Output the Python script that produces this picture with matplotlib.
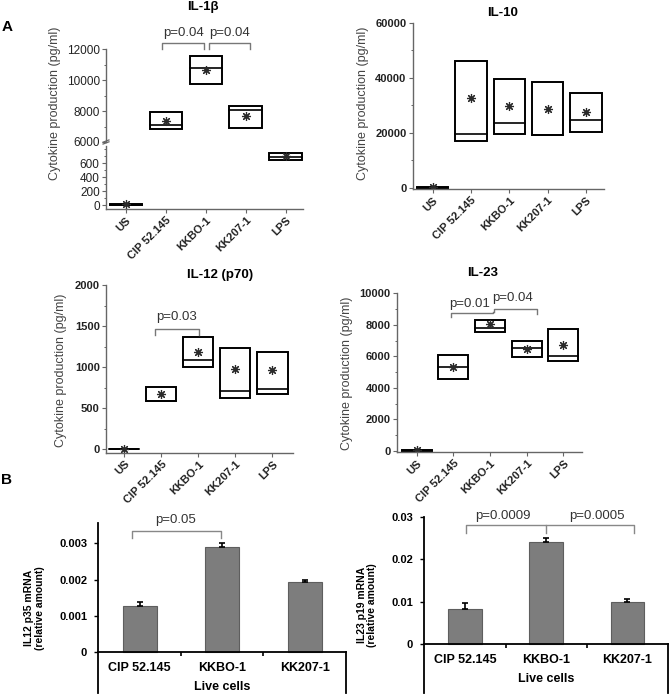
import numpy as np
import matplotlib.pyplot as plt
from matplotlib.patches import Rectangle
from matplotlib.ticker import MultipleLocator

plt.rcParams['font.family'] = ['Liberation Sans', 'DejaVu Sans']

groups = ['US', 'CIP 52.145', 'KKBO-1', 'KK207-1', 'LPS']

# box data: low edge, median line, high edge, mean (star)
il1b_low = [0, 6851, 9724, 6915, 641]
il1b_med = [5, 7107, 10745, 8064, 688]
il1b_high = [15, 7915, 11533, 8340, 748]
il1b_mean = [8, 7383, 10640, 7660, 701]

il10_low = [0, 17020, 19430, 19070, 20160]
il10_med = [100, 19550, 23540, 19250, 24500]
il10_high = [300, 46110, 39590, 38620, 34400]
il10_mean = [150, 32830, 29570, 28730, 27400]

il12_low = [0, 589, 1008, 630, 671]
il12_med = [3, 595, 1085, 707, 740]
il12_high = [10, 764, 1370, 1232, 1191]
il12_mean = [5, 679, 1187, 976, 970]

il23_low = [0, 4566, 7568, 5983, 5708]
il23_med = [20, 5306, 7822, 6532, 6025]
il23_high = [60, 6088, 8308, 6955, 7758]
il23_mean = [60, 5349, 8033, 6448, 6722]

live = ['CIP 52.145', 'KKBO-1', 'KK207-1']
p35 = [0.00128, 0.00291, 0.00193]
p35_err = [0.00011, 0.00009, 0.00006]
p19 = [0.0083, 0.0240, 0.00995]
p19_err = [0.0013, 0.0011, 0.0006]

W, H = 671, 696
fig = plt.figure(figsize=(W / 100, H / 100), dpi=100)


def px_axes(x0, y0, x1, y1):
    return fig.add_axes([x0 / W, 1 - y1 / H, (x1 - x0) / W, (y1 - y0) / H])


def style_a(ax, bold):
    for s in ['top', 'right']:
        ax.spines[s].set_visible(False)
    for s in ['left', 'bottom']:
        ax.spines[s].set_color('#666666')
        ax.spines[s].set_linewidth(1.0)
    ax.tick_params(which='major', direction='out', length=3, width=0.8,
                   color='#666666', labelsize=8, labelcolor='#222222', pad=1.5)
    ax.tick_params(which='minor', direction='out', length=1.8, width=0.7,
                   color='#666666')
    for t in ax.get_yticklabels():
        t.set_fontweight('bold' if bold else 'normal')


def boxes(ax, low, med, high, mean, w=0.82):
    for i in range(len(low)):
        ax.add_patch(Rectangle((i - w / 2, low[i]), w, high[i] - low[i],
                               fill=False, ec='black', lw=1.4))
        ax.plot([i - w / 2, i + w / 2], [med[i], med[i]], color='black', lw=1.2)
    ax.plot(range(len(mean)), mean, ls='none', marker=(8, 2, 0), ms=6.5,
            mec='#2a2a2a', mew=0.85)


def xcats(ax):
    ax.set_xticks(range(len(groups)))
    ax.set_xticklabels(groups, rotation=45, ha='right', rotation_mode='anchor',
                       fontsize=8, fontweight='bold', color='#222222')


def bracket(ax, x1, x2, ytop, yl1, yl2, col='#777777'):
    ax.plot([x1, x1, x2, x2], [yl1, ytop, ytop, yl2], color=col, lw=1.0,
            clip_on=False)


PSIZE = 9.5
TSIZE = 9.5
YLSIZE = 9

# ---------------- IL-1b (broken axis) ----------------
ax_up = px_axes(106, 49, 303, 142)
ax_lo = px_axes(106, 146, 303, 209)
for a in (ax_up, ax_lo):
    boxes(a, il1b_low, il1b_med, il1b_high, il1b_mean)
    a.set_xlim(-0.5, 4.43)
ax_up.set_ylim(6000, 12000)
ax_up.set_yticks([6000, 8000, 10000, 12000])
ax_up.yaxis.set_minor_locator(MultipleLocator(1000))
ax_lo.set_ylim(-57, 846)
ax_lo.set_yticks([0, 200, 400, 600])
ax_lo.yaxis.set_minor_locator(MultipleLocator(100))
xcats(ax_lo)
ax_up.set_xticks([])
style_a(ax_up, False)
style_a(ax_lo, False)
ax_up.spines['bottom'].set_visible(False)
for a in (ax_up, ax_lo):
    for t in a.get_yticklabels():
        t.set_fontsize(8.5)
# break mark
for yy in (-0.01, 0.01):
    ax_up.plot([-0.015, 0.015], [yy - 0.012, yy + 0.012], transform=ax_up.transAxes,
               color='#666666', lw=0.9, clip_on=False)
bracket(ax_up, 0.9, 1.95, 12384, 12000, 12000)
bracket(ax_up, 2.07, 3.1, 12384, 12000, 12000)
ax_up.text(1.43, 12650, 'p=0.04', ha='center', va='bottom', fontsize=PSIZE,
           color='#333333', clip_on=False)
ax_up.text(2.6, 12650, 'p=0.04', ha='center', va='bottom', fontsize=PSIZE,
           color='#333333', clip_on=False)
fig.text(203 / W, 1 - 7 / H, 'IL-1β', ha='center', va='center', fontsize=TSIZE,
         fontweight='bold')
fig.text(55 / W, 1 - 103 / H, 'Cytokine production (pg/ml)', rotation=90,
         ha='center', va='center', fontsize=YLSIZE, color='#444444')

# ---------------- IL-10 ----------------
ax = px_axes(412.7, 22.7, 604, 189)
boxes(ax, il10_low, il10_med, il10_high, il10_mean)
ax.set_xlim(-0.52, 4.47)
ax.set_ylim(-400, 60000)
ax.set_yticks([0, 20000, 40000, 60000])
ax.yaxis.set_minor_locator(MultipleLocator(10000))
xcats(ax)
style_a(ax, True)
fig.text(503 / W, 1 - 13 / H, 'IL-10', ha='center', va='center', fontsize=TSIZE,
         fontweight='bold')
fig.text(363 / W, 1 - 103 / H, 'Cytokine production (pg/ml)', rotation=90,
         ha='center', va='center', fontsize=YLSIZE, color='#444444')

# ---------------- IL-12 (p70) ----------------
ax = px_axes(106, 285.3, 292.7, 452.7)
boxes(ax, il12_low, il12_med, il12_high, il12_mean)
ax.set_xlim(-0.49, 4.55)
ax.set_ylim(-41, 2000)
ax.set_yticks([0, 500, 1000, 1500, 2000])
ax.yaxis.set_minor_locator(MultipleLocator(250))
xcats(ax)
style_a(ax, True)
bracket(ax, 0.82, 2.02, 1463, 1394, 1394)
ax.text(1.42, 1545, 'p=0.03', ha='center', va='bottom', fontsize=PSIZE,
        color='#333333')
fig.text(220 / W, 1 - 275 / H, 'IL-12 (p70)', ha='center', va='center',
         fontsize=TSIZE, fontweight='bold')
fig.text(61 / W, 1 - 370 / H, 'Cytokine production (pg/ml)', rotation=90,
         ha='center', va='center', fontsize=YLSIZE, color='#444444')

# ---------------- IL-23 ----------------
ax = px_axes(396.7, 293.3, 581.7, 452)
boxes(ax, il23_low, il23_med, il23_high, il23_mean)
ax.set_xlim(-0.545, 4.5)
ax.set_ylim(-63, 10000)
ax.set_yticks([0, 2000, 4000, 6000, 8000, 10000])
ax.yaxis.set_minor_locator(MultipleLocator(1000))
xcats(ax)
style_a(ax, True)
bracket(ax, 0.93, 2.09, 8773, 8520, 8800)
bracket(ax, 2.11, 3.29, 8985, 8800, 8667)
ax.text(1.45, 8950, 'p=0.01', ha='center', va='bottom', fontsize=PSIZE,
        color='#333333')
ax.text(2.62, 9350, 'p=0.04', ha='center', va='bottom', fontsize=PSIZE,
        color='#333333')
fig.text(483 / W, 1 - 273 / H, 'IL-23', ha='center', va='center', fontsize=TSIZE,
         fontweight='bold')
fig.text(347 / W, 1 - 373 / H, 'Cytokine production (pg/ml)', rotation=90,
         ha='center', va='center', fontsize=YLSIZE, color='#444444')


# ---------------- B panels ----------------
def bar_panel(ax, vals, errs, ylo, yhi, ticks, ticklabels, ylab):
    x = np.arange(len(live))
    ax.bar(x, vals, width=0.41, color='#7d7d7d', edgecolor='#5e5e5e', lw=0.8,
           zorder=2)
    ax.errorbar(x, vals, yerr=[np.zeros(len(vals)), errs], fmt='none',
                ecolor='black', elinewidth=1.2, capsize=2.2, capthick=1.2, zorder=3)
    ax.set_xlim(-0.5, 2.5)
    ax.set_ylim(ylo, yhi)
    ax.spines['top'].set_visible(False)
    ax.spines['bottom'].set_position(('data', 0))
    ax.spines['right'].set_bounds(ylo, 0)
    for s in ['left', 'right', 'bottom']:
        ax.spines[s].set_color('black')
        ax.spines[s].set_linewidth(1.3)
    ax.set_yticks(ticks)
    ax.set_yticklabels(ticklabels, fontsize=8, fontweight='bold')
    ax.set_xticks(x)
    ax.set_xticklabels(live, fontsize=9, fontweight='bold')
    ax.set_xticks([0.5, 1.5], minor=True)
    ax.tick_params(axis='x', which='major', length=0, pad=7)
    ax.tick_params(axis='x', which='minor', length=3, width=1.2, direction='out')
    ax.tick_params(axis='y', which='major', length=3, width=1, direction='out',
                   pad=5)
    ax.set_xlabel('Live cells', fontsize=9, fontweight='bold', labelpad=5)
    ax.set_ylabel(ylab, fontsize=7.5, fontweight='bold', linespacing=1.1,
                  labelpad=10)


ax = px_axes(98.3, 523.3, 346, 693)
bar_panel(ax, p35, p35_err, -0.00112, 0.00355, [0, 0.001, 0.002, 0.003],
          ['0', '0.001', '0.002', '0.003'], 'IL12 p35 mRNA\n(relative amount)')
bracket(ax, -0.09, 0.99, 0.003347, 0.003154, 0.003154, col='#888888')
ax.text(0.44, 0.00348, 'p=0.05', ha='center', va='bottom', fontsize=PSIZE,
        color='#333333', clip_on=False)

ax = px_axes(424.3, 516.7, 668, 693)
bar_panel(ax, p19, p19_err, -0.01145, 0.03, [0, 0.01, 0.02, 0.03],
          ['0', '0.01', '0.02', '0.03'], 'IL23 p19 mRNA\n(relative amount)')
bracket(ax, 0.01, 1.0, 0.02804, 0.02624, 0.02624, col='#888888')
bracket(ax, 1.0, 2.08, 0.02804, 0.02804, 0.02608, col='#888888')
ax.text(0.47, 0.0288, 'p=0.0009', ha='center', va='bottom', fontsize=PSIZE,
        color='#333333', clip_on=False)
ax.text(1.62, 0.0288, 'p=0.0005', ha='center', va='bottom', fontsize=PSIZE,
        color='#333333', clip_on=False)

fig.text(7 / W, 1 - 27 / H, 'A', ha='center', va='center', fontsize=11,
         fontweight='bold')
fig.text(6 / W, 1 - 480 / H, 'B', ha='center', va='center', fontsize=11,
         fontweight='bold')

fig.savefig('out.png', dpi=100)
